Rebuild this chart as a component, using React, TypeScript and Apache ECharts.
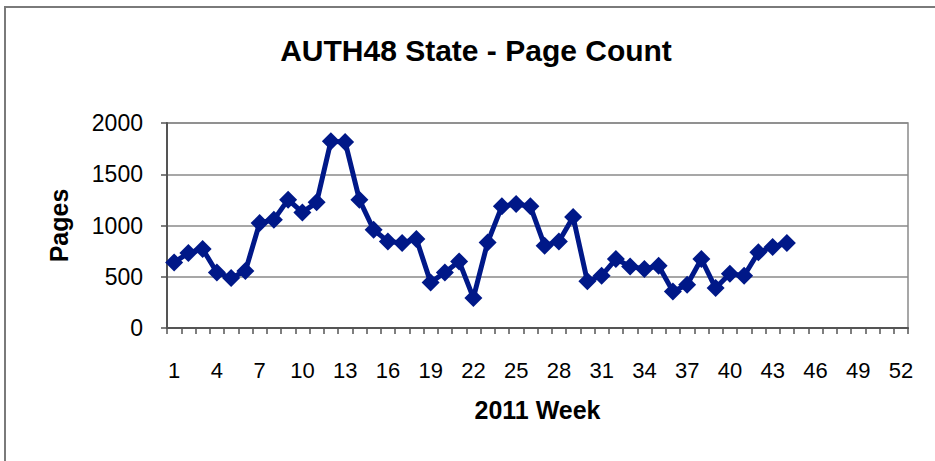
import React, { useEffect, useRef } from "react";
import * as echarts from "echarts";

const weeks: string[] = Array.from({ length: 52 }, (_, i) => String(i + 1));
const pages: number[] = [
  640, 732, 771, 542, 488, 555, 1024, 1057, 1252, 1128, 1226, 1821, 1815, 1252,
  959, 845, 829, 868, 445, 542, 650, 293, 835, 1187, 1210, 1187, 803, 845, 1083,
  455, 510, 673, 601, 576, 608, 357, 422, 673, 390, 530, 510, 738, 790, 829,
];
const titleText = "AUTH48 State - Page Count";
const xName = "2011 Week";
const yName = "Pages";

const FONT = "'Liberation Sans', Arial, Helvetica, sans-serif";
const NAVY = "#001888";

export default function App() {
  const ref = useRef<HTMLDivElement>(null);
  useEffect(() => {
    const chart = echarts.init(ref.current!, null, { renderer: "svg" });
    chart.setOption({
      animation: false,
      backgroundColor: "#fff",
      grid: {
        left: 167,
        right: 27,
        top: 123,
        bottom: 133,
        show: true,
        borderColor: "#8a8a8a",
        borderWidth: 1.5,
        backgroundColor: "transparent",
      },
      graphic: [
        {
          type: "rect",
          shape: { x: 5, y: 7, width: 1200, height: 1000 },
          style: { fill: "none", stroke: "#7a7a7a", lineWidth: 2 },
          silent: true,
          z: -10,
        },
        {
          type: "text",
          x: 476,
          y: 50,
          style: {
            text: titleText,
            fill: "#000",
            font: `bold 30px ${FONT}`,
            textAlign: "center",
            textVerticalAlign: "middle",
            align: "center",
            verticalAlign: "middle",
          },
        },
      ],
      xAxis: {
        type: "category",
        data: weeks,
        boundaryGap: true,
        name: xName,
        nameLocation: "middle",
        nameGap: 69,
        nameTextStyle: { fontFamily: FONT, fontSize: 25, fontWeight: "bold", color: "#000" },
        axisLine: { show: true, lineStyle: { color: "#555", width: 2 } },
        axisTick: { show: true, interval: 0, length: 6, alignWithLabel: false, lineStyle: { color: "#555", width: 1.5 } },
        axisLabel: { interval: 2, margin: 31, fontFamily: FONT, fontSize: 22, color: "#000" },
        splitLine: { show: false },
      },
      yAxis: {
        type: "value",
        min: 0,
        max: 2000,
        interval: 500,
        name: yName,
        nameLocation: "middle",
        nameGap: 96,
        nameRotate: 90,
        nameTextStyle: { fontFamily: FONT, fontSize: 25, fontWeight: "bold", color: "#000" },
        axisLine: { show: true, lineStyle: { color: "#555", width: 2 } },
        axisTick: { show: true, length: 6, lineStyle: { color: "#555", width: 1.5 } },
        axisLabel: {
          margin: 24,
          fontFamily: FONT,
          fontSize: 23,
          color: "#000",
          formatter: (v: number) => String(v),
        },
        splitLine: { show: true, lineStyle: { color: "#8a8a8a", width: 1.5 } },
      },
      series: [
        {
          type: "line",
          data: pages,
          symbol: "diamond",
          symbolSize: 18,
          showSymbol: true,
          showAllSymbol: true,
          lineStyle: { color: NAVY, width: 5 },
          itemStyle: { color: NAVY },
        },
      ],
    });
    return () => chart.dispose();
  }, []);
  return (
    <div
      ref={ref}
      style={{ position: "fixed", left: 0, top: 0, width: 935, height: 461 }}
    />
  );
}
